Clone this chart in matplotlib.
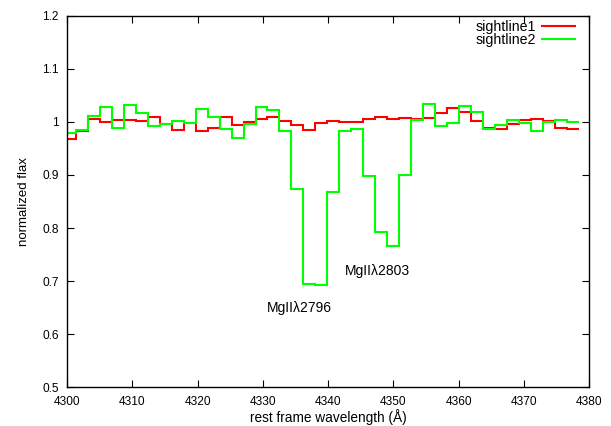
import numpy as np
import matplotlib
matplotlib.use('Agg')
import matplotlib.pyplot as plt
from matplotlib.ticker import FuncFormatter, MultipleLocator

# rest-frame wavelength of each pixel (bin centres, Angstrom)
wavelength = [4300.46, 4302.29, 4304.13, 4305.96, 4307.79, 4309.63, 4311.46, 4313.29,
              4315.12, 4316.96, 4318.79, 4320.62, 4322.46, 4324.29, 4326.12, 4327.96,
              4329.79, 4331.62, 4333.45, 4335.29, 4337.12, 4338.95, 4340.79, 4342.62,
              4344.45, 4346.29, 4348.12, 4349.95, 4351.78, 4353.62, 4355.45, 4357.28,
              4359.12, 4360.95, 4362.78, 4364.62, 4366.45, 4368.28, 4370.11, 4371.95,
              4373.78, 4375.61, 4377.45]

sightline1 = [0.968, 0.983, 1.006, 0.999, 1.004, 1.004, 1.001, 1.009,
              0.996, 0.985, 0.997, 0.982, 0.988, 1.009, 0.994, 1.000,
              1.006, 1.009, 1.002, 0.994, 0.985, 0.997, 1.001, 0.999,
              1.000, 1.006, 1.009, 1.006, 1.008, 1.006, 1.007, 1.016,
              1.026, 1.019, 1.001, 0.988, 0.987, 0.996, 1.004, 1.006,
              1.001, 0.989, 0.986]

sightline2 = [0.980, 0.985, 1.011, 1.028, 0.989, 1.031, 1.016, 0.993,
              0.996, 1.002, 0.997, 1.025, 1.009, 0.986, 0.970, 0.996,
              1.028, 1.022, 0.982, 0.873, 0.695, 0.692, 0.868, 0.983,
              0.987, 0.899, 0.793, 0.767, 0.900, 1.003, 1.033, 0.992,
              0.998, 1.030, 1.018, 0.986, 0.994, 1.004, 0.998, 0.982,
              0.999, 1.004, 0.999]

# line labels (text, wavelength, flux)
lines = [("MgII\u03bb2796", 4330.6, 0.650),
         ("MgII\u03bb2803", 4342.6, 0.719)]

plt.rcParams['font.family'] = ['Liberation Sans', 'DejaVu Sans']
plt.rcParams['font.size'] = 10

# histogram-style steps: edges halfway between pixel centres
wl = np.array(wavelength)
mid = (wl[1:] + wl[:-1]) / 2
edges = np.concatenate([[wl[0] - (mid[0] - wl[0])], mid, [wl[-1] + (wl[-1] - mid[-1])]])

fig = plt.figure(figsize=(6.11, 4.26), dpi=100)
ax = fig.add_axes([0.1097, 0.0908, 0.8548, 0.8723])

ax.stairs(sightline1, edges, baseline=None, color='#ff0000', linewidth=1.5, label='sightline1')
ax.stairs(sightline2, edges, baseline=None, color='#00ff00', linewidth=1.5, label='sightline2')

for text, x, y in lines:
    ax.text(x, y, text, ha='left', va='center', fontsize=10)

ax.set_xlim(4300, 4380)
ax.set_ylim(0.5, 1.2)
ax.xaxis.set_major_locator(MultipleLocator(10))
ax.yaxis.set_major_locator(MultipleLocator(0.1))
ax.yaxis.set_major_formatter(FuncFormatter(lambda v, p: '%g' % round(v, 2)))
ax.tick_params(direction='in', top=True, right=True, length=5, width=0.8, pad=6,
               labelsize=8.6)
for s in ax.spines.values():
    s.set_linewidth(1.0)

ax.set_xlabel('rest frame wavelength (\u00c5)', fontsize=9.8, labelpad=1)
ax.set_ylabel('normalized flax', fontsize=9.5, labelpad=9)

ax.legend(loc='upper right', frameon=False, markerfirst=False, fontsize=10.2,
          handlelength=2.35, handletextpad=0.4, labelspacing=-0.08,
          borderaxespad=0, borderpad=0, bbox_to_anchor=(0.9726, 0.988))

plt.savefig('out.png', dpi=100)
